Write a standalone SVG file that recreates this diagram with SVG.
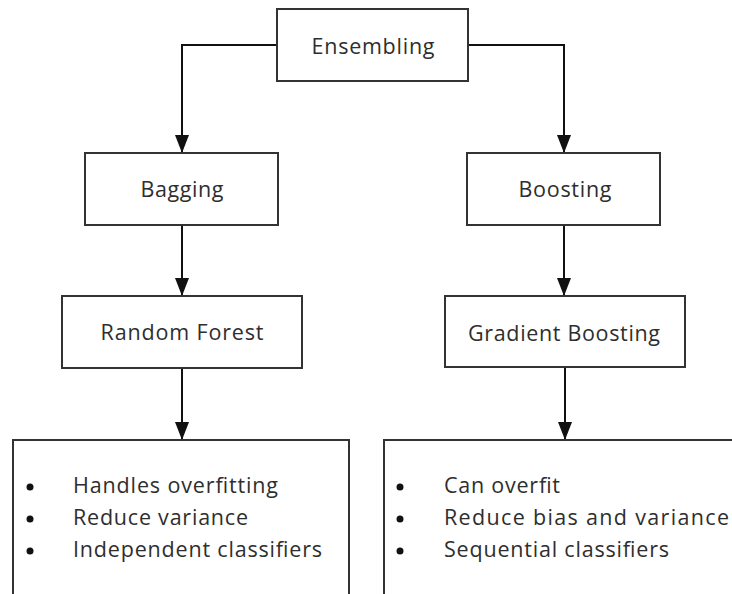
<svg xmlns="http://www.w3.org/2000/svg" width="732" height="594" viewBox="0 0 732 594">
  <defs>
    <marker id="arr" viewBox="0 0 18 14" refX="18" refY="7" markerWidth="18" markerHeight="14" markerUnits="userSpaceOnUse" orient="auto">
      <path d="M0,0 L18,7 L0,14 Z" fill="#111"/>
    </marker>
  </defs>
  <style>
    .box { fill: #ffffff; stroke: #333333; stroke-width: 2; }
    .lbl { font-family: "Open Sans", "Noto Sans", "DejaVu Sans", sans-serif; font-size: 21.5px; fill: #2e2e2e; text-anchor: middle; }
    .item { font-family: "Open Sans", "Noto Sans", "DejaVu Sans", sans-serif; font-size: 21.5px; fill: #2e2e2e; }
    .bul { fill: #111111; }
    .conn { fill: none; stroke: #111111; stroke-width: 2; }
  </style>
  <rect width="732" height="594" fill="#ffffff"/>
  <g id="connectors">
    <path class="conn" d="M277,45 H182 V153" marker-end="url(#arr)"/>
    <path class="conn" d="M468,45 H564 V153" marker-end="url(#arr)"/>
    <path class="conn" d="M182,225 V296" marker-end="url(#arr)"/>
    <path class="conn" d="M564,225 V296" marker-end="url(#arr)"/>
    <path class="conn" d="M182,368 V440" marker-end="url(#arr)"/>
    <path class="conn" d="M565,367 V440" marker-end="url(#arr)"/>
  </g>
  <g id="ensembling">
    <rect class="box" x="277" y="9" width="191" height="72"/>
    <text class="lbl" x="373" y="54" textLength="123">Ensembling</text>
  </g>
  <g id="bagging">
    <rect class="box" x="85" y="153" width="193" height="72"/>
    <text class="lbl" x="182" y="197" textLength="83">Bagging</text>
  </g>
  <g id="boosting">
    <rect class="box" x="467" y="153" width="193" height="72"/>
    <text class="lbl" x="565" y="197" textLength="93">Boosting</text>
  </g>
  <g id="random-forest">
    <rect class="box" x="62" y="296" width="240" height="72"/>
    <text class="lbl" x="182" y="340" textLength="163">Random Forest</text>
  </g>
  <g id="gradient-boosting">
    <rect class="box" x="445" y="296" width="240" height="71"/>
    <text class="lbl" x="564" y="341" textLength="192">Gradient Boosting</text>
  </g>
  <g id="bagging-properties">
    <rect class="box" x="13" y="440" width="336" height="170"/>
    <circle class="bul" cx="30" cy="487" r="3.5"/>
    <circle class="bul" cx="30" cy="519" r="3.5"/>
    <circle class="bul" cx="30" cy="551" r="3.5"/>
    <text class="item" x="73" y="493" textLength="205">Handles overfitting</text>
    <text class="item" x="73" y="525" textLength="175">Reduce variance</text>
    <text class="item" x="73" y="557" textLength="249">Independent classifiers</text>
  </g>
  <g id="boosting-properties">
    <rect class="box" x="384" y="440" width="360" height="170"/>
    <circle class="bul" cx="400" cy="487" r="3.5"/>
    <circle class="bul" cx="400" cy="519" r="3.5"/>
    <circle class="bul" cx="400" cy="551" r="3.5"/>
    <text class="item" x="444" y="493" textLength="116">Can overfit</text>
    <text class="item" x="444" y="525" textLength="285">Reduce bias and variance</text>
    <text class="item" x="444" y="557" textLength="225">Sequential classifiers</text>
  </g>
</svg>
